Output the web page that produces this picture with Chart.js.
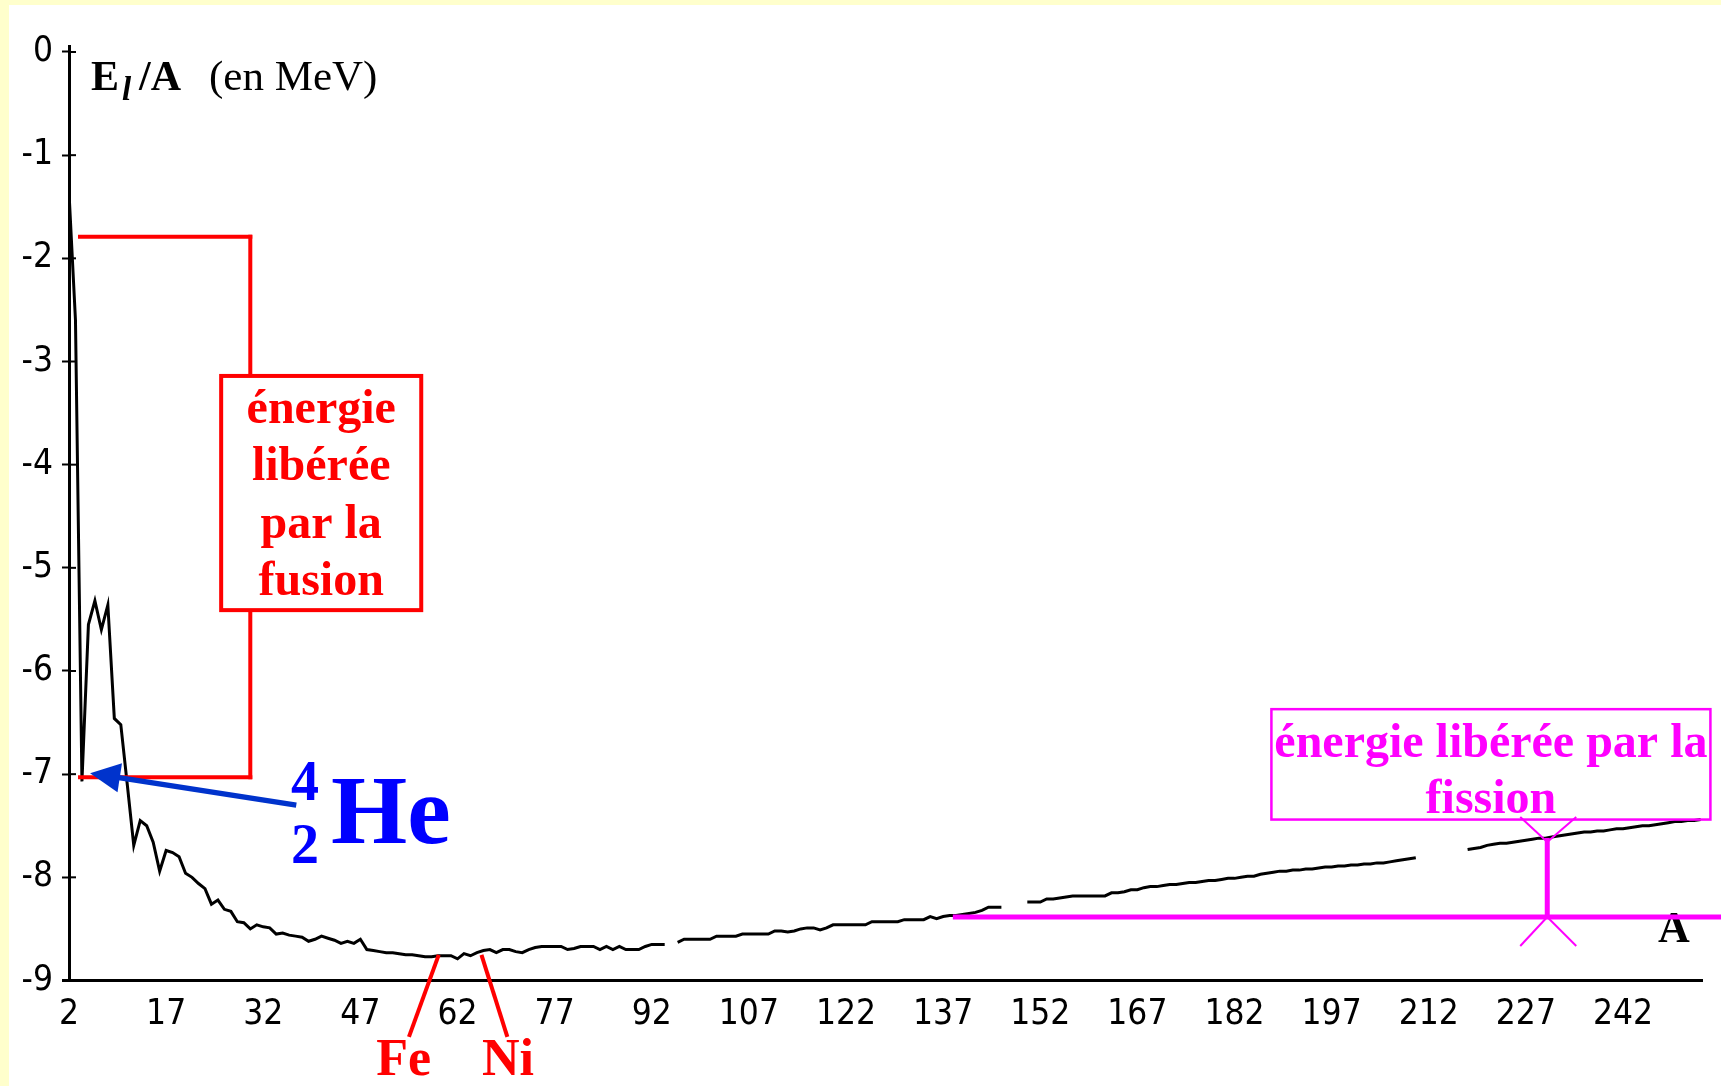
<!DOCTYPE html>
<html>
<head>
<meta charset="utf-8">
<script src="https://cdn.jsdelivr.net/npm/chart.js@4.4.0/dist/chart.umd.min.js"></script>
<style>
html,body{margin:0;padding:0;background:#ffffcc;overflow:hidden}
canvas{display:block}
</style>
</head>
<body>
<canvas id="c" width="1721" height="1086"></canvas>
<script>
// ---------- DATA ----------
const A_START = 2;                 // first mass number in the series
// binding energy per nucleon (MeV), one value per A from 2 to 254 (null = gap)
const bindingEnergy = [
  -1.36,-2.60,-7.07,-5.55,-5.32,-5.60,-5.36,-6.46,-6.52,-7.10,   // A 2-11
  -7.69,-7.45,-7.50,-7.66,-7.94,-7.74,-7.76,-7.80,-7.96,-8.00,   // A 12-21
  -8.06,-8.11,-8.26,-8.22,-8.31,-8.33,-8.43,-8.44,-8.50,-8.46,   // A 22-31
  -8.48,-8.49,-8.55,-8.54,-8.56,-8.57,-8.58,-8.62,-8.60,-8.57,   // A 32-41
  -8.59,-8.61,-8.64,-8.62,-8.64,-8.60,-8.70,-8.71,-8.72,-8.73,   // A 42-51
  -8.73,-8.74,-8.75,-8.75,-8.76,-8.77,-8.77,-8.76,-8.76,-8.76,   // A 52-61
  -8.79,-8.74,-8.76,-8.73,-8.71,-8.70,-8.73,-8.70,-8.70,-8.72,   // A 62-71
  -8.73,-8.70,-8.68,-8.67,-8.67,-8.67,-8.67,-8.70,-8.69,-8.67,   // A 72-81
  -8.67,-8.67,-8.70,-8.67,-8.70,-8.67,-8.70,-8.70,-8.70,-8.67,   // A 82-91
  -8.65,-8.65,-8.65,null,-8.63,-8.60,-8.60,-8.60,-8.60,-8.60,    // A 92-101
  -8.57,-8.57,-8.57,-8.57,-8.55,-8.55,-8.55,-8.55,-8.55,-8.52,   // A 102-111
  -8.52,-8.53,-8.52,-8.50,-8.49,-8.49,-8.51,-8.49,-8.46,-8.46,   // A 112-121
  -8.46,-8.46,-8.46,-8.46,-8.43,-8.43,-8.43,-8.43,-8.43,-8.41,   // A 122-131
  -8.41,-8.41,-8.41,-8.38,-8.40,-8.38,-8.37,-8.37,-8.36,-8.35,   // A 132-141
  -8.34,-8.32,-8.29,-8.29,-8.29,null,null,null,-8.24,-8.24,      // A 142-151
  -8.24,-8.21,-8.21,-8.20,-8.19,-8.18,-8.18,-8.18,-8.18,-8.18,   // A 152-161
  -8.18,-8.15,-8.15,-8.14,-8.12,-8.12,-8.10,-8.09,-8.09,-8.08,   // A 162-171
  -8.07,-8.07,-8.06,-8.05,-8.05,-8.04,-8.03,-8.03,-8.02,-8.01,   // A 172-181
  -8.01,-8.00,-7.99,-7.99,-7.97,-7.96,-7.95,-7.94,-7.94,-7.93,   // A 182-191
  -7.93,-7.92,-7.92,-7.91,-7.90,-7.90,-7.89,-7.89,-7.88,-7.88,   // A 192-201
  -7.87,-7.87,-7.86,-7.86,-7.85,-7.84,-7.83,-7.82,-7.81,null,    // A 202-211
  null,null,null,null,null,null,-7.73,-7.72,-7.71,-7.69,         // A 212-221
  -7.68,-7.67,-7.67,-7.66,-7.65,-7.64,-7.63,-7.62,-7.62,-7.61,   // A 222-231
  -7.60,-7.59,-7.58,-7.57,-7.56,-7.56,-7.55,-7.55,-7.54,-7.53,   // A 232-241
  -7.53,-7.52,-7.51,-7.50,-7.50,-7.49,-7.48,-7.47,-7.46,-7.46,   // A 242-251
  -7.45,-7.45,-7.44                                              // A 252-254
];
const xTickValues = [2,17,32,47,62,77,92,107,122,137,152,167,182,197,212,227,242];
const yTickValues = [0,-1,-2,-3,-4,-5,-6,-7,-8,-9];
const X_MIN = 2, X_MAX = 254.2, Y_MIN = -9, Y_MAX = 0.05;

const fusionLines = ['énergie','libérée','par la','fusion'];
const fissionLines = ['énergie libérée par la','fission'];

// ---------- STYLE / ANNOTATION GEOMETRY (data coordinates) ----------
const SERIF = "'Liberation Serif','Times New Roman',serif";
const TICKFONT = "'Liberation Sans Narrow','DejaVu Sans Condensed','Arial Narrow',sans-serif";
const RED = '#ff0000', MAGENTA = '#ff00ff', BLUE = '#0000ff', ARROWBLUE = '#0033cc';

const geo = {
  fusionBracket: {a0: 3.7, a1: 30.0, eTop: -1.79, eBot: -7.03},
  fusionBox: {a0: 25.5, a1: 56.4, eTop: -3.14, eBot: -5.41},
  fissionBox: {a0: 187.7, a1: 255.5, eTop: -6.37, eBot: -7.44},
  fissionLine: {a0: 138.5, a1: 257.3, e: -8.384},
  fissionBar: {a: 230.3, eTop: -7.657, eBot: -8.384},
  heArrow: {aTail: 37.1, eTail: -7.30, aTip: 5.26, eTip: -6.99},
  heLabel: {a: 42.47, e: -7.667},
  feLine: {a0: 54.5, e0: -9.547, a1: 59.1, e1: -8.752},
  niLine: {a0: 69.7, e0: -9.547, a1: 65.7, e1: -8.752},
  feLabel: {a: 53.7, e: -9.916},
  niLabel: {a: 69.8, e: -9.916},
  aLabel: {a: 249.85, e: -8.627}
};

const points = bindingEnergy.map((v, i) => ({x: A_START + i, y: v}));

const bgPlugin = {
  id: 'bg',
  beforeDraw(chart) {
    const ctx = chart.ctx;
    ctx.save();
    ctx.fillStyle = '#ffffcc';
    ctx.fillRect(0, 0, chart.width, chart.height);
    ctx.fillStyle = '#ffffff';
    ctx.fillRect(9, 5, chart.width - 9, chart.height - 5);
    ctx.restore();
  }
};

function line(ctx, x1, y1, x2, y2, w, c) {
  ctx.beginPath(); ctx.moveTo(x1, y1); ctx.lineTo(x2, y2);
  ctx.lineWidth = w; ctx.strokeStyle = c; ctx.stroke();
}

const annPlugin = {
  id: 'ann',
  afterDraw(chart) {
    const ctx = chart.ctx, xs = chart.scales.x, ys = chart.scales.y;
    const X = a => xs.getPixelForValue(a), Y = e => ys.getPixelForValue(e);
    const ca = chart.chartArea;
    ctx.save();
    ctx.lineCap = 'butt';

    // inner halves of y tick marks and left stub of the x axis
    yTickValues.forEach(v => line(ctx, ca.left, Y(v), ca.left + 7, Y(v), 2, '#000'));
    line(ctx, ca.left - 7, ca.bottom, ca.left, ca.bottom, 3, '#000');

    // axis title  E l /A (en MeV)
    ctx.fillStyle = '#000';
    ctx.textAlign = 'left'; ctx.textBaseline = 'alphabetic';
    const tx = ca.left + 22, tb = Y(0) + 38;
    ctx.font = 'bold 42px ' + SERIF; ctx.fillText('E', tx, tb);
    ctx.font = 'italic bold 33px ' + SERIF; ctx.fillText('l', tx + 31, tb + 10);
    ctx.font = 'bold 42px ' + SERIF; ctx.fillText('/A', tx + 48, tb);
    ctx.font = '43px ' + SERIF; ctx.fillText('(en MeV)', tx + 118, tb);

    // fusion bracket
    const fb = geo.fusionBracket;
    ctx.lineCap = 'square';
    line(ctx, X(fb.a0), Y(fb.eTop), X(fb.a1), Y(fb.eTop), 4, RED);
    line(ctx, X(fb.a1), Y(fb.eTop), X(fb.a1), Y(fb.eBot), 4, RED);
    line(ctx, X(fb.a0), Y(fb.eBot), X(fb.a1), Y(fb.eBot), 4, RED);
    ctx.lineCap = 'butt';

    // fusion box
    const fx = geo.fusionBox;
    const bx0 = X(fx.a0), bx1 = X(fx.a1), by0 = Y(fx.eTop), by1 = Y(fx.eBot);
    ctx.fillStyle = '#fff'; ctx.fillRect(bx0, by0, bx1 - bx0, by1 - by0);
    ctx.lineWidth = 4; ctx.strokeStyle = RED; ctx.strokeRect(bx0, by0, bx1 - bx0, by1 - by0);
    ctx.fillStyle = RED; ctx.font = 'bold 48px ' + SERIF; ctx.textAlign = 'center';
    fusionLines.forEach((t, i) => ctx.fillText(t, (bx0 + bx1) / 2, by0 + 47 + i * 57.3));

    // blue arrow to He-4
    const ha = geo.heArrow;
    const tailX = X(ha.aTail), tailY = Y(ha.eTail), tipX = X(ha.aTip), tipY = Y(ha.eTip);
    let dx = tailX - tipX, dy = tailY - tipY; const L = Math.hypot(dx, dy); dx /= L; dy /= L;
    const hl = 30, hw = 14.6;
    line(ctx, tailX, tailY, tipX + dx * hl * 0.7, tipY + dy * hl * 0.7, 5.5, ARROWBLUE);
    ctx.beginPath();
    ctx.moveTo(tipX, tipY);
    ctx.lineTo(tipX + dx * hl - dy * hw, tipY + dy * hl + dx * hw);
    ctx.lineTo(tipX + dx * hl + dy * hw, tipY + dy * hl - dx * hw);
    ctx.closePath(); ctx.fillStyle = ARROWBLUE; ctx.fill();

    // He label
    const hx = X(geo.heLabel.a), hy = Y(geo.heLabel.e);
    ctx.fillStyle = BLUE; ctx.textAlign = 'center';
    ctx.font = 'bold 56px ' + SERIF;
    ctx.fillText('4', hx - 26, hy - 43);
    ctx.fillText('2', hx - 26, hy + 20);
    ctx.textAlign = 'left'; ctx.font = 'bold 98px ' + SERIF;
    ctx.fillText('He', hx, hy);

    // Fe / Ni pointers
    const fe = geo.feLine, ni = geo.niLine;
    line(ctx, X(fe.a0), Y(fe.e0), X(fe.a1), Y(fe.e1), 4, RED);
    line(ctx, X(ni.a0), Y(ni.e0), X(ni.a1), Y(ni.e1), 4, RED);
    ctx.fillStyle = RED; ctx.textAlign = 'center'; ctx.font = 'bold 52px ' + SERIF;
    ctx.fillText('Fe', X(geo.feLabel.a), Y(geo.feLabel.e));
    ctx.fillText('Ni', X(geo.niLabel.a), Y(geo.niLabel.e));

    // A label
    ctx.fillStyle = '#000'; ctx.font = 'bold 44px ' + SERIF;
    ctx.fillText('A', X(geo.aLabel.a), Y(geo.aLabel.e));

    // fission line, bar and V marks
    const fl = geo.fissionLine, bar = geo.fissionBar;
    line(ctx, X(fl.a0), Y(fl.e), X(fl.a1), Y(fl.e), 5, MAGENTA);
    const vx = X(bar.a), vt = Y(bar.eTop), vb = Y(bar.eBot);
    line(ctx, vx, vt - 4, vx, vb, 5, MAGENTA);
    line(ctx, vx, vt, vx - 27, vt - 25, 2, MAGENTA);
    line(ctx, vx, vt, vx + 29, vt - 25, 2, MAGENTA);
    line(ctx, vx, vb, vx - 27, vb + 29, 2, MAGENTA);
    line(ctx, vx, vb, vx + 29, vb + 29, 2, MAGENTA);

    // fission box
    const fi = geo.fissionBox;
    const fx0 = X(fi.a0), fx1 = X(fi.a1), fy0 = Y(fi.eTop), fy1 = Y(fi.eBot);
    ctx.lineWidth = 2.5; ctx.strokeStyle = MAGENTA; ctx.strokeRect(fx0, fy0, fx1 - fx0, fy1 - fy0);
    ctx.fillStyle = MAGENTA; ctx.font = 'bold 48px ' + SERIF; ctx.textAlign = 'center';
    fissionLines.forEach((t, i) => ctx.fillText(t, (fx0 + fx1) / 2, fy0 + 48 + i * 56));

    ctx.restore();
  }
};

new Chart(document.getElementById('c'), {
  type: 'line',
  data: {
    datasets: [{
      data: points,
      borderColor: '#000',
      borderWidth: 3,
      pointRadius: 0,
      tension: 0,
      spanGaps: false,
      fill: false
    }]
  },
  options: {
    responsive: false,
    animation: false,
    devicePixelRatio: 1,
    layout: {padding: {left: 0, top: 46.84, right: 19, bottom: 0}},
    plugins: {legend: {display: false}, tooltip: {enabled: false}},
    scales: {
      x: {
        type: 'linear', min: X_MIN, max: X_MAX,
        afterBuildTicks: s => { s.ticks = xTickValues.map(v => ({value: v})); },
        afterFit: s => { s.height = 105.5; },
        grid: {display: true, drawOnChartArea: false, drawTicks: false},
        border: {display: true, color: '#000', width: 3},
        ticks: {color: '#000', padding: 13, maxRotation: 0, autoSkip: false,
          font: {family: TICKFONT, size: 35}, callback: v => String(v)}
      },
      y: {
        type: 'linear', min: Y_MIN, max: Y_MAX,
        afterBuildTicks: s => { s.ticks = yTickValues.map(v => ({value: v})); },
        afterFit: s => { s.width = 69; },
        grid: {display: true, drawOnChartArea: false, drawTicks: true, tickLength: 7, tickWidth: 2, tickColor: '#000'},
        border: {display: true, color: '#000', width: 3},
        ticks: {color: '#000', padding: 9, autoSkip: false,
          font: {family: TICKFONT, size: 35}, callback: v => String(v)}
      }
    }
  },
  plugins: [bgPlugin, annPlugin]
});
</script>
</body>
</html>
